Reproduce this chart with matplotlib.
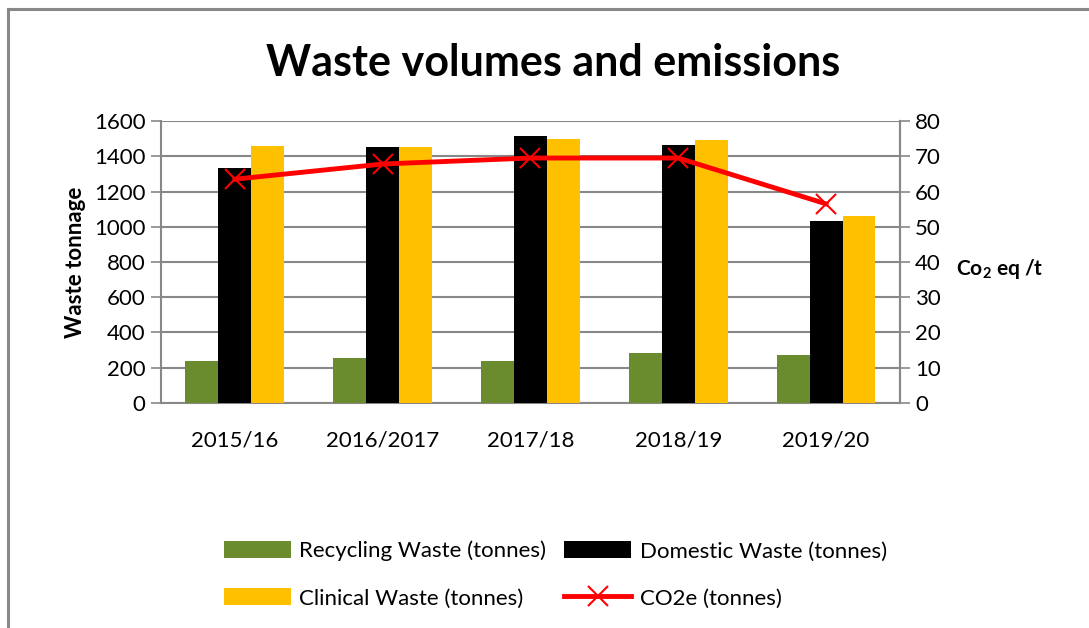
import matplotlib.pyplot as plt
import numpy as np

plt.rcParams['font.family'] = ['Lato', 'DejaVu Sans']
plt.rcParams['mathtext.fontset'] = 'custom'
plt.rcParams['mathtext.rm'] = 'Lato'
plt.rcParams['mathtext.bf'] = 'Lato:bold'

years = ['2015/16', '2016/2017', '2017/18', '2018/19', '2019/20']
recycling = [240, 255, 240, 283, 271]
domestic = [1335, 1455, 1515, 1466, 1031]
clinical = [1460, 1455, 1500, 1493, 1060]
co2e = [63.5, 67.8, 69.5, 69.5, 56.5]

grey = '#888888'
x = np.arange(len(years))
w = 0.223

fig = plt.figure(figsize=(10.89, 6.28), dpi=100)
ax = fig.add_axes([0.1478, 0.3583, 0.6786, 0.449])

b1 = ax.bar(x - w, recycling, w, color='#6a8b2e', label='Recycling Waste (tonnes)', zorder=3)
b2 = ax.bar(x, domestic, w, color='black', label='Domestic Waste (tonnes)', zorder=3)
b3 = ax.bar(x + w, clinical, w, color='#ffc000', label='Clinical Waste (tonnes)', zorder=3)

ax.set_xlim(-0.5, len(years) - 0.5)
ax.set_ylim(0, 1600)
ax.set_yticks(np.arange(0, 1601, 200))
ax.yaxis.grid(True, color=grey, linewidth=1.5, zorder=0)
ax.set_axisbelow(True)
ax.set_xticks(x)
ax.set_xticklabels(years)
ax.tick_params(axis='x', length=0, pad=20, labelsize=16)
ax.tick_params(axis='y', length=7, width=1.2, color=grey, labelsize=16, pad=4)
ax.spines['top'].set_visible(False)
for s in ['left', 'right', 'bottom']:
    ax.spines[s].set_color(grey)
    ax.spines[s].set_linewidth(1.5)
ax.set_ylabel('Waste tonnage', fontsize=16, fontweight='bold', labelpad=6)

ax2 = ax.twinx()
l1, = ax2.plot(x, co2e, color='#ff0000', linewidth=3.5, marker='x', markersize=14,
               markeredgewidth=1.5, markeredgecolor='#ff0000', label='CO2e (tonnes)', zorder=5)
ax2.set_ylim(0, 80)
ax2.set_yticks(np.arange(0, 81, 10))
ax2.tick_params(axis='y', length=7, width=1.2, color=grey, labelsize=16, pad=4)
for s in ['top', 'left', 'bottom']:
    ax2.spines[s].set_visible(False)
ax2.spines['right'].set_color(grey)
ax2.spines['right'].set_linewidth(1.5)

fig.text(0.878, 0.572, r'Co$_\mathbf{2}$ eq /t', fontsize=15, fontweight='bold',
         ha='left', va='center')

fig.text(0.508, 0.9, 'Waste volumes and emissions', fontsize=31, fontweight='bold',
         ha='center', va='center')

# legend filled column-wise: Recycling/Clinical in col 1, Domestic/CO2e in col 2
fig.legend([b1, b3, b2, l1],
           ['Recycling Waste (tonnes)', 'Clinical Waste (tonnes)',
            'Domestic Waste (tonnes)', 'CO2e (tonnes)'],
           ncol=2, loc='center', bbox_to_anchor=(0.51, 0.085),
           frameon=False, fontsize=16, handlelength=3.0, handleheight=0.8,
           columnspacing=0.8, labelspacing=1.2, handletextpad=0.4)

# chart border (top and left only)
fig.add_artist(plt.Line2D([0.0075, 1], [0.985, 0.985], color=grey, linewidth=2.2,
                          transform=fig.transFigure))
fig.add_artist(plt.Line2D([0.0075, 0.0075], [0, 0.985], color=grey, linewidth=2.2,
                          transform=fig.transFigure))

fig.savefig('out.png', dpi=100)
